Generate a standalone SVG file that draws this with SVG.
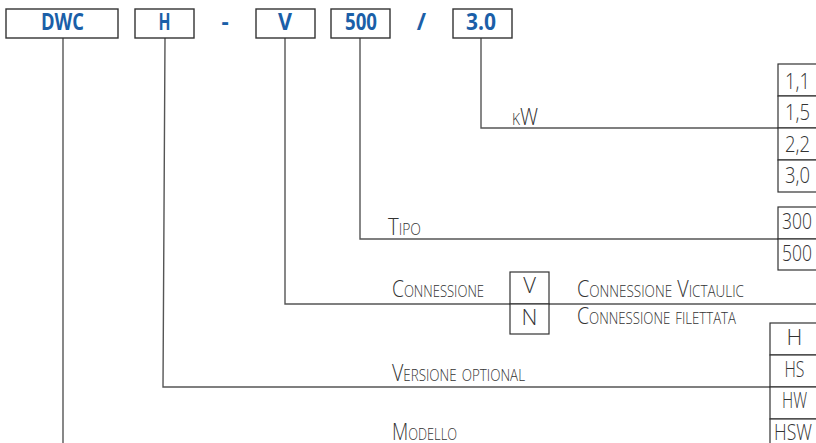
<svg xmlns="http://www.w3.org/2000/svg" width="816" height="443" viewBox="0 0 816 443">
<style>
.box{fill:#fff;stroke:#333;stroke-width:1.4}
.cell{fill:#fff;stroke:#333;stroke-width:1.2}
.top{font-family:"Open Sans","Liberation Sans",sans-serif;font-weight:700;font-size:22.5px;fill:#1b5fa8;text-anchor:middle}
.lbl{font-family:"Open Sans","Liberation Sans",sans-serif;font-weight:300;font-size:23.5px;fill:#333;font-variant:small-caps}
.val{font-family:"Open Sans","Liberation Sans",sans-serif;font-weight:300;font-size:22px;fill:#333;text-anchor:middle}
.ln{fill:none;stroke:#555;stroke-width:1.4}
</style>
<rect width="816" height="443" fill="#fff"/>
<g id="connectors">
<path class="ln" d="M63,38 V443"/>
<path class="ln" d="M165,38 L163,387 H770"/>
<path class="ln" d="M285,38 V304 H816"/>
<path class="ln" d="M360,38 V239 H778"/>
<path class="ln" d="M481,38 V128 H778"/>
</g>
<g id="code">
<g id="box-dwc"><rect class="box" x="6" y="9" width="112" height="29"/><text class="top" x="62.5" y="30" textLength="43" lengthAdjust="spacingAndGlyphs">DWC</text></g>
<g id="box-h"><rect class="box" x="135" y="9" width="59" height="29"/><text class="top" x="164.5" y="30" textLength="12" lengthAdjust="spacingAndGlyphs">H</text></g>
<text class="top" x="225" y="30">-</text>
<g id="box-v"><rect class="box" x="256" y="9" width="59" height="29"/><text class="top" x="285" y="30" textLength="14" lengthAdjust="spacingAndGlyphs">V</text></g>
<g id="box-500"><rect class="box" x="331" y="9" width="59" height="29"/><text class="top" x="361" y="30" textLength="32" lengthAdjust="spacingAndGlyphs">500</text></g>
<text class="top" x="421.5" y="30">/</text>
<g id="box-30"><rect class="box" x="453" y="9" width="59" height="29"/><text class="top" x="481" y="30" textLength="30" lengthAdjust="spacingAndGlyphs">3.0</text></g>
</g>
<g id="label-kw"><text class="lbl" x="512" y="125" textLength="26" lengthAdjust="spacingAndGlyphs">kW</text></g>
<g id="table-kw">
<rect class="cell" x="778" y="64" width="45" height="32"/>
<rect class="cell" x="778" y="96" width="45" height="32"/>
<rect class="cell" x="778" y="128" width="45" height="32"/>
<rect class="cell" x="778" y="160" width="45" height="32"/>
<text class="val" x="797.5" y="89" textLength="25" lengthAdjust="spacingAndGlyphs">1,1</text>
<text class="val" x="797.5" y="120" textLength="25" lengthAdjust="spacingAndGlyphs">1,5</text>
<text class="val" x="797.5" y="152" textLength="25" lengthAdjust="spacingAndGlyphs">2,2</text>
<text class="val" x="797.5" y="183" textLength="25" lengthAdjust="spacingAndGlyphs">3,0</text>
</g>
<g id="label-tipo"><text class="lbl" x="388" y="235" textLength="33" lengthAdjust="spacingAndGlyphs">Tipo</text></g>
<g id="table-tipo">
<rect class="cell" x="778" y="207" width="45" height="32"/>
<rect class="cell" x="778" y="239" width="45" height="31"/>
<text class="val" x="797" y="229" textLength="30" lengthAdjust="spacingAndGlyphs">300</text>
<text class="val" x="797" y="261" textLength="30" lengthAdjust="spacingAndGlyphs">500</text>
</g>
<g id="label-connessione"><text class="lbl" x="392" y="297" textLength="92" lengthAdjust="spacingAndGlyphs">Connessione</text></g>
<g id="table-connessione">
<rect class="cell" x="510" y="272" width="39" height="32"/>
<rect class="cell" x="510" y="304" width="39" height="30"/>
<text class="val" x="529.5" y="293">V</text>
<text class="val" x="529.5" y="325">N</text>
</g>
<g id="label-victaulic"><text class="lbl" x="577" y="297" textLength="167" lengthAdjust="spacingAndGlyphs">Connessione Victaulic</text></g>
<g id="label-filettata"><text class="lbl" x="577" y="324" textLength="159" lengthAdjust="spacingAndGlyphs">Connessione filettata</text></g>
<g id="label-versione"><text class="lbl" x="392" y="381" textLength="133" lengthAdjust="spacingAndGlyphs">Versione optional</text></g>
<g id="table-versione">
<rect class="cell" x="770" y="323" width="50" height="32"/>
<rect class="cell" x="770" y="355" width="50" height="32"/>
<rect class="cell" x="770" y="387" width="50" height="32"/>
<rect class="cell" x="770" y="419" width="50" height="32"/>
<text class="val" x="794.5" y="345">H</text>
<text class="val" x="794.5" y="377" textLength="20" lengthAdjust="spacingAndGlyphs">HS</text>
<text class="val" x="794.5" y="408" textLength="25" lengthAdjust="spacingAndGlyphs">HW</text>
<text class="val" x="793" y="440" textLength="38" lengthAdjust="spacingAndGlyphs">HSW</text>
</g>
<g id="label-modello"><text class="lbl" x="392" y="440" textLength="65" lengthAdjust="spacingAndGlyphs">Modello</text></g>
</svg>
